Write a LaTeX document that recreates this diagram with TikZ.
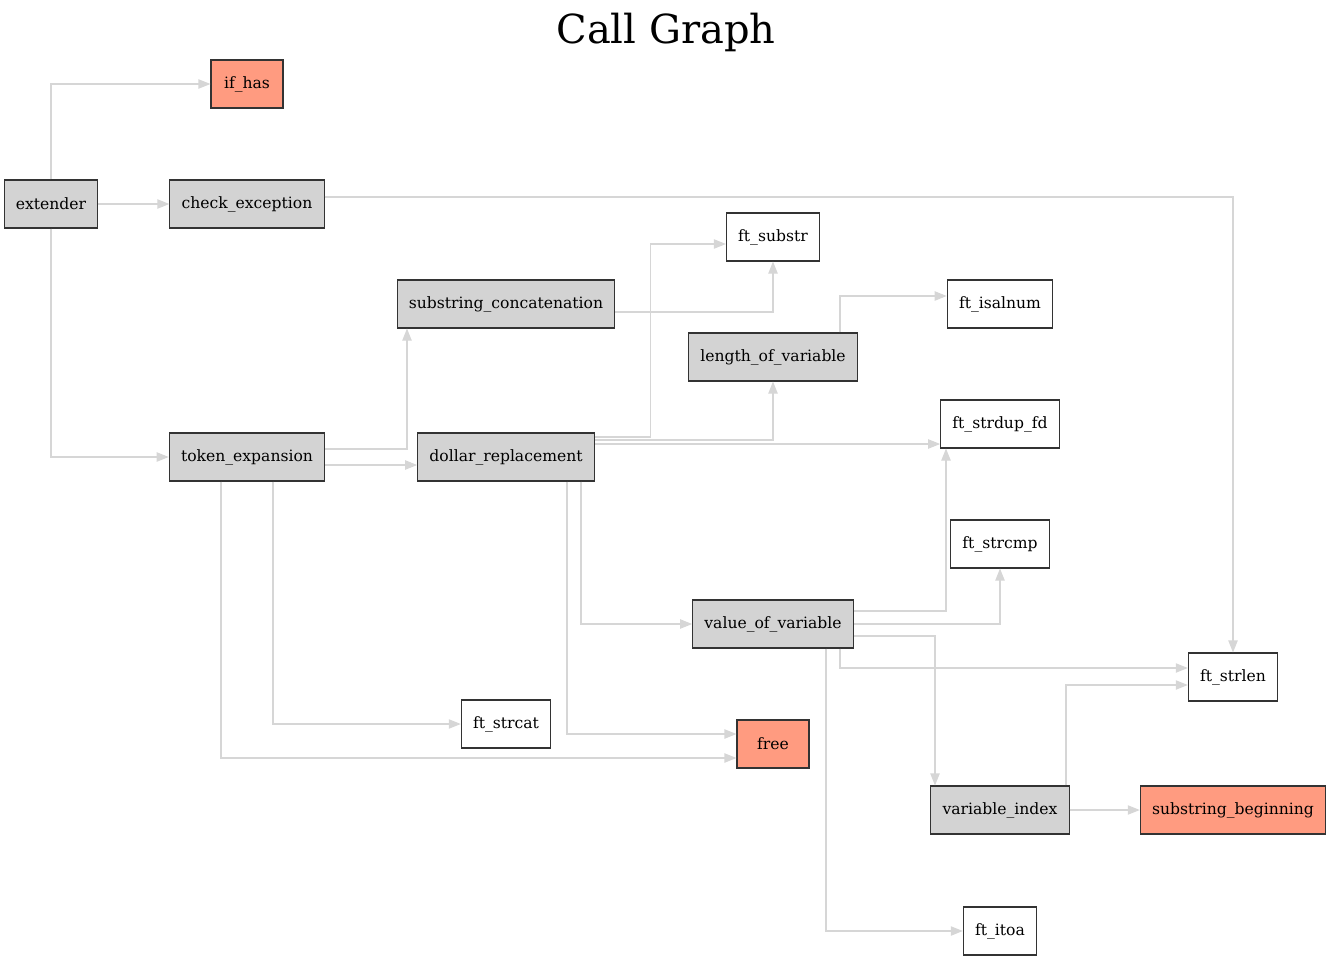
\documentclass[tikz,border=0pt]{standalone}
\usepackage{fontspec}
\setmainfont{DejaVu Serif}
\usetikzlibrary{arrows.meta}

\definecolor{callgray}{HTML}{D3D3D3}
\definecolor{callsalmon}{HTML}{FF9B80}
\definecolor{edgegray}{HTML}{D6D6D6}

\tikzset{
    fn/.style={draw=black!80, line width=0.8pt, minimum height=36pt, minimum width=54pt,
        inner xsep=8.8pt, font=\fontsize{11.7}{14}\selectfont},
    own/.style={fn, fill=callgray},
    libc/.style={fn, fill=callsalmon},
    plain/.style={fn, fill=white},
    edge/.style={draw=edgegray, line width=0.8pt, -{Triangle[length=9pt,width=7pt]}}
}

\begin{document}
\begin{tikzpicture}[x=0.75pt, y=-0.75pt]

    \useasboundingbox (0,0) rectangle (1331,960);

    \node[anchor=base, inner sep=0pt] (title) at (666,43) {\fontsize{30}{36}\selectfont Call Graph};

    % callers
    \node[libc]  (ifhas)     at (247,84)   {if\_has};
    \node[own]   (extender)  at (51,204)   {extender};
    \node[own]   (checkexc)  at (247,204)  {check\_exception};
    \node[own]   (tokenexp)  at (247,457)  {token\_expansion};
    \node[own]   (substrcat) at (506,304)  {substring\_concatenation};
    \node[own]   (dollar)    at (506,457)  {dollar\_replacement};
    \node[own]   (lengthvar) at (773,357)  {length\_of\_variable};
    \node[own]   (valuevar)  at (773,624)  {value\_of\_variable};
    \node[own]   (varindex)  at (1000,810) {variable\_index};

    % callees
    \node[plain] (ftsubstr)  at (773,237)  {ft\_substr};
    \node[plain] (ftisalnum) at (1000,304) {ft\_isalnum};
    \node[plain] (ftstrdup)  at (1000,424) {ft\_strdup\_fd};
    \node[plain] (ftstrcmp)  at (1000,544) {ft\_strcmp};
    \node[plain] (ftstrlen)  at (1233,677) {ft\_strlen};
    \node[plain] (ftstrcat)  at (506,724)  {ft\_strcat};
    \node[libc]  (free)      at (773,744)  {free};
    \node[libc]  (substrbeg) at (1233,810) {substring\_beginning};
    \node[plain] (ftitoa)    at (1000,931) {ft\_itoa};

    % extender
    \draw[edge] (extender) |- (ifhas);
    \draw[edge] (extender) -- (checkexc);
    \draw[edge] (extender) |- (tokenexp);
    \draw[edge] ([yshift=5.25pt]checkexc.east) -| (ftstrlen);

    % token_expansion
    \draw[edge] ([yshift=6pt]tokenexp.east) -| ([xshift=-74.25pt]substrcat.south);
    \draw[edge] ([yshift=-6pt]tokenexp.east) -- ([yshift=-6pt]dollar.west);
    \draw[edge] ([xshift=19.5pt]tokenexp.south) |- (ftstrcat);
    \draw[edge] ([xshift=-19.5pt]tokenexp.south) |- ([yshift=-10.5pt]free.west);
    \draw[edge] ([yshift=-6pt]substrcat.east) -| (ftsubstr);

    % dollar_replacement
    \draw[edge] ([yshift=15pt]dollar.east) -- ++(56,0) |- ([yshift=-5.25pt]ftsubstr.west);
    \draw[edge] ([yshift=12.75pt]dollar.east) -| (lengthvar);
    \draw[edge] ([yshift=9.75pt]dollar.east) -- ([yshift=-15pt]ftstrdup.west);
    \draw[edge] ([xshift=56.25pt]dollar.south) |- (valuevar);
    \draw[edge] ([xshift=45.75pt]dollar.south) |- ([yshift=7.5pt]free.west);
    \draw[edge] ([xshift=50.25pt]lengthvar.north) |- ([yshift=6pt]ftisalnum.west);

    % value_of_variable
    \draw[edge] ([yshift=9.75pt]valuevar.east) -| ([xshift=-40.5pt]ftstrdup.south);
    \draw[edge] (valuevar) -| (ftstrcmp);
    \draw[edge] ([yshift=-9pt]valuevar.east) -| ([xshift=-48.75pt]varindex.north);
    \draw[edge] ([xshift=50.25pt]valuevar.south) |- ([yshift=6.75pt]ftstrlen.west);
    \draw[edge] ([xshift=39.75pt]valuevar.south) |- (ftitoa);

    % variable_index
    \draw[edge] ([xshift=49.5pt]varindex.north) |- ([yshift=-6pt]ftstrlen.west);
    \draw[edge] (varindex) -- (substrbeg);

\end{tikzpicture}
\end{document}
